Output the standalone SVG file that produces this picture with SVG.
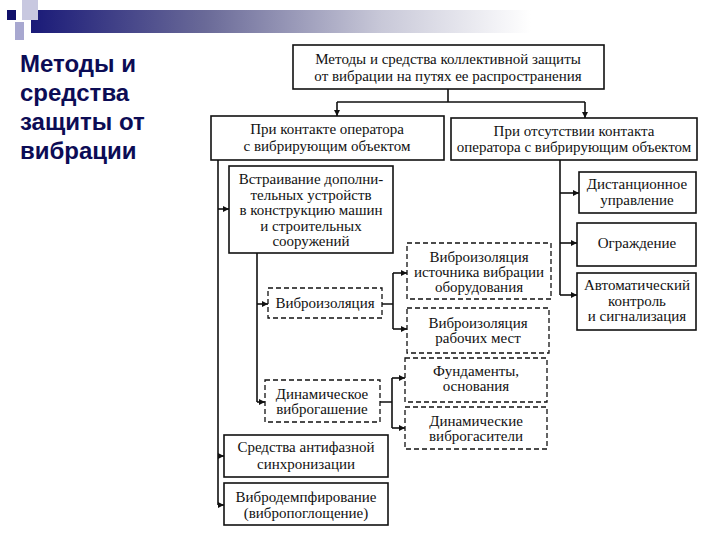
<svg xmlns="http://www.w3.org/2000/svg" width="720" height="540" viewBox="0 0 720 540">
<defs>
<linearGradient id="bar" x1="0" y1="0" x2="1" y2="0">
<stop offset="0" stop-color="#1a1a78"/>
<stop offset="0.35" stop-color="#6a6a98"/>
<stop offset="0.7" stop-color="#c8c8d8"/>
<stop offset="1" stop-color="#ffffff"/>
</linearGradient>
<marker id="ah" viewBox="0 0 10 10" refX="10" refY="5" markerWidth="7" markerHeight="6" markerUnits="userSpaceOnUse" orient="auto">
<path d="M0,0 L10,5 L0,10 z" fill="#111"/>
</marker>
<style>
.box{fill:#fff;stroke:#111;stroke-width:1.6}
.dbox{fill:#fff;stroke:#111;stroke-width:1.3;stroke-dasharray:5 3}
.t{font-family:'Liberation Serif','Times New Roman','DejaVu Serif',serif;font-size:15px;fill:#111;text-anchor:middle}
.ln{fill:none;stroke:#111;stroke-width:1.6}
.ar{fill:none;stroke:#111;stroke-width:1.6;marker-end:url(#ah)}
.title{font-family:'Liberation Sans',Arial,sans-serif;font-size:24px;font-weight:bold;fill:#0c0c55}
</style>
</defs>
<rect width="720" height="540" fill="#fff"/>
<g id="header">
<rect x="31" y="10" width="500" height="23" fill="url(#bar)"/>
<rect x="22" y="0" width="16" height="20" fill="#c8c8e0"/>
<rect x="15" y="22" width="9" height="18" fill="#a8a8d0"/>
<rect x="7" y="10" width="9" height="10" fill="#10106a"/>
</g>
<g id="title">
<text class="title" x="20" y="72">Методы и</text>
<text class="title" x="20" y="101">средства</text>
<text class="title" x="20" y="130">защиты от</text>
<text class="title" x="20" y="159">вибрации</text>
</g>
<g id="connectors">
<path class="ln" d="M448,89 V102 M337,102 H585"/>
<path class="ar" d="M337,102 V116"/>
<path class="ar" d="M585,102 V118"/>
<path class="ln" d="M218,160 V505"/>
<path class="ar" d="M218,209 H229"/>
<path class="ar" d="M218,456 H224"/>
<path class="ar" d="M218,505 H224"/>
<path class="ln" d="M257,253 V402"/>
<path class="ar" d="M257,304 H268"/>
<path class="ar" d="M257,402 H265"/>
<path class="ln" d="M382,304 H393 M393,273 V329"/>
<path class="ar" d="M393,273 H407"/>
<path class="ar" d="M393,329 H407"/>
<path class="ln" d="M380,402 H392 M392,378 V428"/>
<path class="ar" d="M392,378 H405"/>
<path class="ar" d="M392,428 H405"/>
<path class="ln" d="M560,160 V295"/>
<path class="ar" d="M560,193 H579"/>
<path class="ar" d="M560,243 H577"/>
<path class="ar" d="M560,295 H577"/>
</g>
<g id="n-top">
<rect class="box" x="293" y="45" width="311" height="44"/>
<text class="t" x="448" y="64">Методы и средства коллективной защиты</text>
<text class="t" x="448" y="81">от вибрации на путях ее распространения</text>
</g>
<g id="n-contact">
<rect class="box" x="211" y="116" width="233" height="44"/>
<text class="t" x="327" y="134">При контакте оператора</text>
<text class="t" x="327" y="151">с вибрирующим объектом</text>
</g>
<g id="n-nocontact">
<rect class="box" x="451" y="118" width="246" height="42"/>
<text class="t" x="574" y="136">При отсутствии контакта</text>
<text class="t" x="574" y="152">оператора с вибрирующим объектом</text>
</g>
<g id="n-embed">
<rect class="box" x="229" y="166" width="164" height="87"/>
<text class="t" x="311" y="184">Встраивание дополни-</text>
<text class="t" x="311" y="199.5">тельных устройств</text>
<text class="t" x="311" y="215">в конструкцию машин</text>
<text class="t" x="311" y="230.5">и строительных</text>
<text class="t" x="311" y="246">сооружений</text>
</g>
<g id="n-vibroiso">
<rect class="dbox" x="268" y="288" width="114" height="30"/>
<text class="t" x="325" y="308">Виброизоляция</text>
</g>
<g id="n-iso-source">
<rect class="dbox" x="407" y="243" width="144" height="56"/>
<text class="t" x="479" y="262">Виброизоляция</text>
<text class="t" x="479" y="277">источника вибрации</text>
<text class="t" x="479" y="292">оборудования</text>
</g>
<g id="n-iso-work">
<rect class="dbox" x="407" y="308" width="142" height="45"/>
<text class="t" x="478" y="328">Виброизоляция</text>
<text class="t" x="478" y="343">рабочих мест</text>
</g>
<g id="n-found">
<rect class="dbox" x="405" y="358" width="142" height="44"/>
<text class="t" x="476" y="376">Фундаменты,</text>
<text class="t" x="476" y="391">основания</text>
</g>
<g id="n-dynabs">
<rect class="dbox" x="405" y="407" width="142" height="42"/>
<text class="t" x="476" y="426">Динамические</text>
<text class="t" x="476" y="441">виброгасители</text>
</g>
<g id="n-dyndamp">
<rect class="dbox" x="265" y="380" width="115" height="42"/>
<text class="t" x="322" y="399">Динамическое</text>
<text class="t" x="322" y="414">виброгашение</text>
</g>
<g id="n-antiphase">
<rect class="box" x="224" y="435" width="164" height="42"/>
<text class="t" x="306" y="452">Средства антифазной</text>
<text class="t" x="306" y="469">синхронизации</text>
</g>
<g id="n-damping">
<rect class="box" x="224" y="483" width="164" height="42"/>
<text class="t" x="306" y="502">Вибродемпфирование</text>
<text class="t" x="306" y="518">(вибропоглощение)</text>
</g>
<g id="n-remote">
<rect class="box" x="579" y="172" width="117" height="41"/>
<text class="t" x="637" y="189">Дистанционное</text>
<text class="t" x="637" y="205">управление</text>
</g>
<g id="n-fence">
<rect class="box" x="577" y="223" width="119" height="43"/>
<text class="t" x="637" y="248">Ограждение</text>
</g>
<g id="n-auto">
<rect class="box" x="577" y="273" width="119" height="57"/>
<text class="t" x="637" y="290">Автоматический</text>
<text class="t" x="637" y="306">контроль</text>
<text class="t" x="637" y="321">и сигнализация</text>
</g>
</svg>
